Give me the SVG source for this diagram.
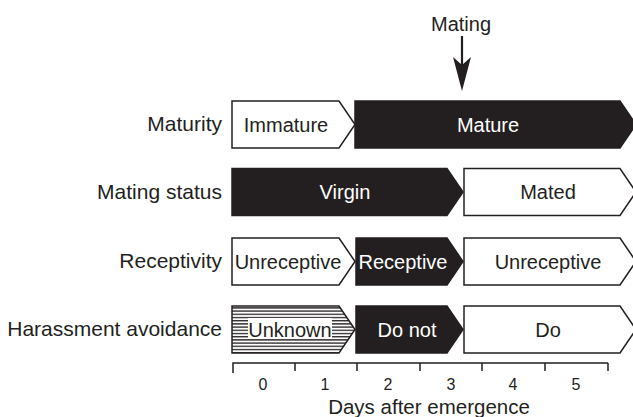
<svg xmlns="http://www.w3.org/2000/svg" width="633" height="417" viewBox="0 0 633 417">
<style>
text{font-family:"Liberation Sans",Arial,sans-serif;fill:#231f20}
.lab{font-size:21px;text-anchor:end}
.in{font-size:20px;text-anchor:middle}
.inw{font-size:20px;text-anchor:middle;fill:#fff}
.blk{fill:#231f20;stroke:#231f20;stroke-width:1.5}
.wht{fill:#fff;stroke:#231f20;stroke-width:1.5}
.hat{fill:url(#hatch);stroke:#231f20;stroke-width:1.5}
.ax{stroke:#231f20;stroke-width:1.5;fill:none}
.num{font-size:16px;text-anchor:middle}
</style>
<defs>
<pattern id="hatch" patternUnits="userSpaceOnUse" width="8" height="3.2">
<rect width="8" height="3.2" fill="#fff"/>
<line x1="0" y1="0.7" x2="8" y2="0.7" stroke="#231f20" stroke-width="1.3"/>
</pattern>
</defs>
<g id="mating-arrow">
<text x="461" y="31" class="in">Mating</text>
<line x1="462" y1="36" x2="462" y2="66" stroke="#231f20" stroke-width="2.2"/>
<path d="M462,91 L453,57 L462,65 L471,57 Z" fill="#231f20"/>
</g>
<g id="row-labels">
<text x="222" y="131" class="lab">Maturity</text>
<text x="222" y="199" class="lab">Mating status</text>
<text x="222" y="268" class="lab">Receptivity</text>
<text x="222" y="336" class="lab">Harassment avoidance</text>
</g>
<g id="immature"><path class="wht" d="M232,101 H339 L355,124.5 L339,148 H232 Z"/><text x="286" y="131.5" class="in">Immature</text></g>
<g id="mature"><path class="blk" d="M355,101 H620 L636,124.5 L620,148 H355 Z"/><text x="488" y="131.5" class="inw">Mature</text></g>
<g id="virgin"><path class="blk" d="M232,168.5 H447 L463,192 L447,215.5 H232 Z"/><text x="345" y="199" class="inw">Virgin</text></g>
<g id="mated"><path class="wht" d="M464,168.5 H620 L636,192 L620,215.5 H464 Z"/><text x="548" y="199" class="in">Mated</text></g>
<g id="unreceptive1"><path class="wht" d="M232,238 H339 L355,261.5 L339,285 H232 Z"/><text x="288" y="268.5" class="in">Unreceptive</text></g>
<g id="receptive"><path class="blk" d="M356,238 H447 L463,261.5 L447,285 H356 Z"/><text x="403" y="268.5" class="inw">Receptive</text></g>
<g id="unreceptive2"><path class="wht" d="M464,238 H620 L636,261.5 L620,285 H464 Z"/><text x="548" y="268.5" class="in">Unreceptive</text></g>
<g id="unknown"><path class="hat" d="M232,306 H339 L355,329.5 L339,353 H232 Z"/><rect x="248" y="318" width="84" height="20" fill="#fff"/><text x="290" y="336.5" class="in">Unknown</text></g>
<g id="donot"><path class="blk" d="M356,306 H447 L463,329.5 L447,353 H356 Z"/><text x="407" y="336.5" class="inw">Do not</text></g>
<g id="do"><path class="wht" d="M464,306 H620 L636,329.5 L620,353 H464 Z"/><text x="548" y="336.5" class="in">Do</text></g>
<g id="axis">
<path class="ax" d="M233,373 V363 H608 M295,363 V371 M357,363 V371 M420,363 V371 M482,363 V371 M545,363 V371 M608,363 V371"/>
<text x="263" y="390" class="num">0</text>
<text x="325" y="390" class="num">1</text>
<text x="388" y="390" class="num">2</text>
<text x="451" y="390" class="num">3</text>
<text x="513" y="390" class="num">4</text>
<text x="576" y="390" class="num">5</text>
<text x="429" y="414" class="in" style="font-size:20.5px">Days after emergence</text>
</g>
</svg>
